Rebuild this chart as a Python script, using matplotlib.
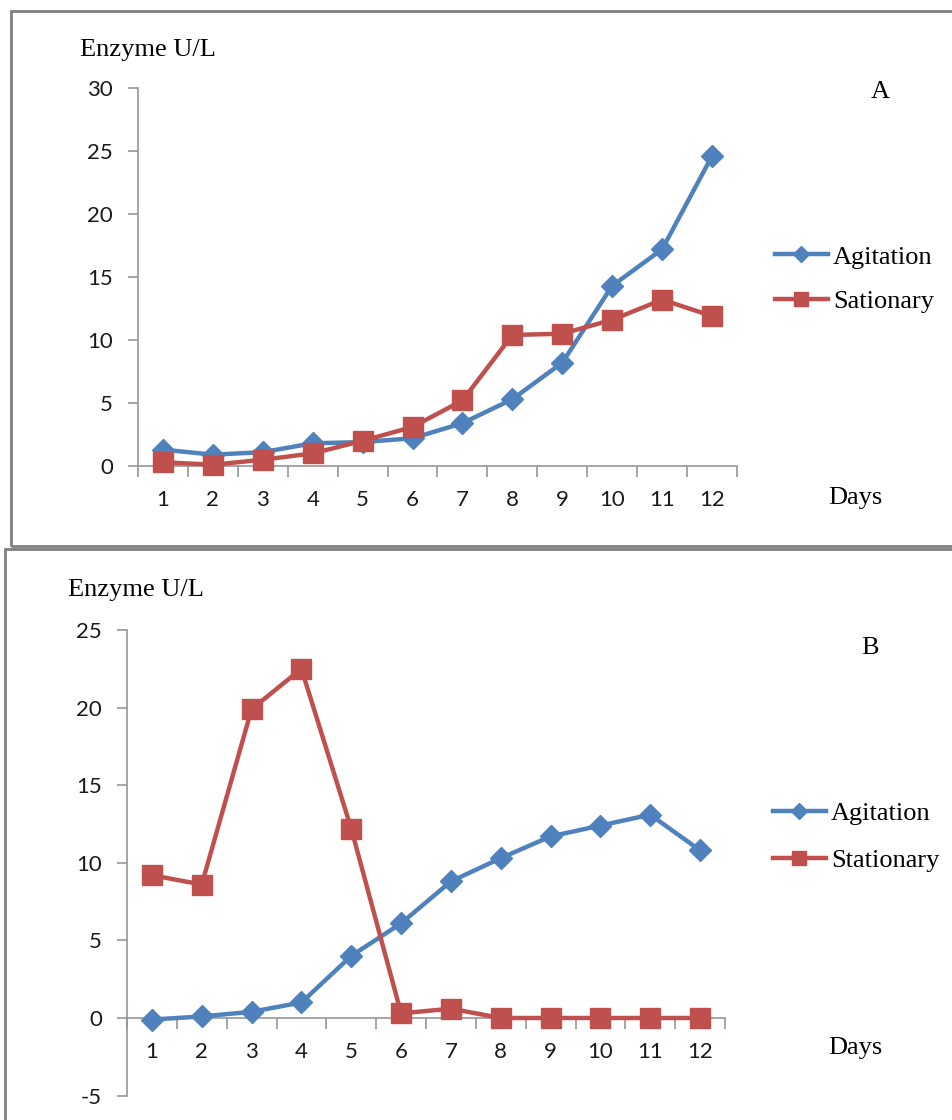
import matplotlib
matplotlib.use("Agg")
import matplotlib.pyplot as plt
from matplotlib.patches import Rectangle
from matplotlib.ticker import FixedLocator, NullFormatter, FixedFormatter

days = list(range(1, 13))
day_labels = [str(d) for d in days]

agitation_a = [1.3, 0.9, 1.1, 1.8, 1.9, 2.2, 3.4, 5.3, 8.2, 14.3, 17.2, 24.6]
stationary_a = [0.3, 0.1, 0.5, 1.0, 2.0, 3.1, 5.2, 10.4, 10.5, 11.6, 13.2, 11.9]

agitation_b = [-0.1, 0.1, 0.4, 1.0, 4.0, 6.1, 8.8, 10.3, 11.7, 12.4, 13.1, 10.8]
stationary_b = [9.2, 8.6, 19.9, 22.5, 12.2, 0.3, 0.6, 0.0, 0.0, 0.0, 0.0, 0.0]

legend_a = ["Agitation", "Sationary"]
legend_b = ["Agitation", "Stationary"]

BLUE = "#4F81BD"
RED = "#C0504D"
AXC = "#969696"
W, H = 953, 1120

fig = plt.figure(figsize=(W / 100, H / 100), dpi=100)

def fx(px):
    return px / W

def fy(py):
    return 1 - py / H

# panel borders
fig.patches.append(Rectangle((fx(11), fy(546)), fx(960) - fx(11), fy(11) - fy(546),
                             transform=fig.transFigure, fill=False, ec="#808080", lw=2.0))
fig.patches.append(Rectangle((fx(5), fy(1125)), fx(960) - fx(5), fy(549) - fy(1125),
                             transform=fig.transFigure, fill=False, ec="#808080", lw=2.0))

tick_font = dict(family=["Lato", "DejaVu Sans"], size=16, color="#1a1a1a")
serif = ["Liberation Serif", "DejaVu Serif"]
TXT = 19


def make_panel(ax_rect, ylim, yticks, agit, stat, labels, letter, letter_xy,
               ylab_xy, days_xy, leg_xy, spacing):
    ax = fig.add_axes(ax_rect)
    ax.plot(days, agit, color=BLUE, lw=3.2, marker="D", ms=11, mfc=BLUE, mec=BLUE,
            label=labels[0], zorder=3, clip_on=False)
    ax.plot(days, stat, color=RED, lw=3.2, marker="s", ms=14, mfc=RED, mec=RED,
            label=labels[1], zorder=4, clip_on=False)
    ax.set_xlim(0.5, 12.5)
    ax.set_ylim(*ylim)
    for s in ["top", "right"]:
        ax.spines[s].set_visible(False)
    ax.spines["left"].set_color(AXC)
    ax.spines["bottom"].set_color(AXC)
    ax.spines["left"].set_linewidth(1.2)
    ax.spines["bottom"].set_linewidth(1.2)
    ax.spines["bottom"].set_position(("data", 0))
    ax.set_yticks(yticks)
    ax.set_yticklabels([str(v) for v in yticks], **tick_font)
    ax.tick_params(axis="y", length=7, width=1.2, color=AXC, pad=11)
    ax.xaxis.set_major_locator(FixedLocator([d + 0.5 for d in [0] + days]))
    ax.xaxis.set_major_formatter(NullFormatter())
    ax.xaxis.set_minor_locator(FixedLocator(days))
    ax.xaxis.set_minor_formatter(FixedFormatter(day_labels))
    ax.tick_params(axis="x", which="major", direction="out", length=8, width=1.2, color=AXC)
    ax.tick_params(axis="x", which="minor", length=0, pad=17)
    for t in ax.get_xticklabels(minor=True):
        t.set_fontfamily(tick_font["family"])
        t.set_fontsize(tick_font["size"])
        t.set_color(tick_font["color"])
    ax.patch.set_alpha(0)
    fig.text(fx(ylab_xy[0]), fy(ylab_xy[1]), "Enzyme U/L", family=serif, size=TXT,
             ha="left", va="center")
    fig.text(fx(letter_xy[0]), fy(letter_xy[1]), letter, family=serif, size=TXT,
             ha="center", va="center")
    fig.text(fx(days_xy[0]), fy(days_xy[1]), "Days", family=serif, size=TXT,
             ha="center", va="center")
    ax.legend(loc="center left", bbox_to_anchor=(fx(leg_xy[0]), fy(leg_xy[1])),
              bbox_transform=fig.transFigure, frameon=False,
              prop=dict(family=serif, size=TXT), handlelength=2.0,
              handletextpad=0.2, borderpad=0, borderaxespad=0,
              labelspacing=spacing, markerscale=0.75)
    return ax

make_panel([fx(138), fy(466), fx(737) - fx(138), fy(88) - fy(466)],
           (0, 30), [0, 5, 10, 15, 20, 25, 30], agitation_a, stationary_a, legend_a,
           "A", (880, 92), (80, 50), (855, 498), (775, 279), 0.78)

make_panel([fx(127), fy(1095.6), fx(725) - fx(127), fy(630) - fy(1095.6)],
           (-5, 25), [-5, 0, 5, 10, 15, 20, 25], agitation_b, stationary_b, legend_b,
           "B", (870, 648), (68, 590), (855, 1048), (773, 837), 0.89)

fig.savefig("out.png", dpi=100)
